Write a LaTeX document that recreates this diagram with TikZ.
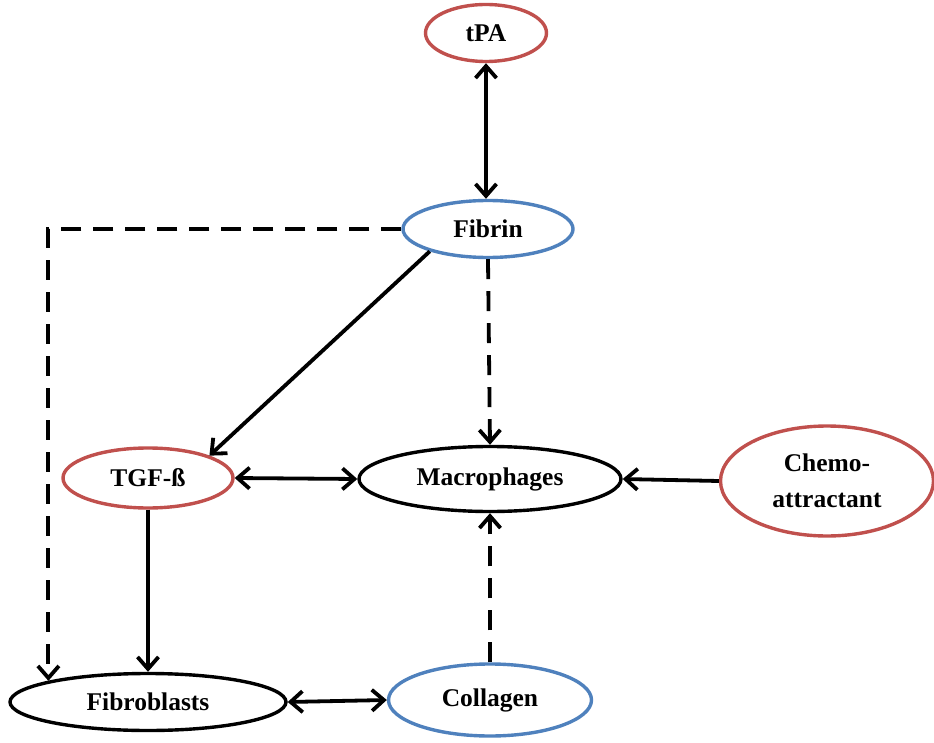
\documentclass[tikz,border=0pt]{standalone}
\usepackage{fontspec}
\setmainfont{Liberation Serif}
\usetikzlibrary{shapes.geometric,arrows.meta}
\definecolor{ovalred}{RGB}{192,80,77}
\definecolor{ovalblue}{RGB}{79,129,189}
\begin{document}
\begin{tikzpicture}[x=1pt,y=-1pt,line width=3.4pt,
  >={Straight Barb[length=12pt,width=21pt]},
  oval/.style={ellipse,draw,inner sep=0pt,align=center,font=\bfseries\fontsize{25.5}{36}\selectfont},
  link/.style={line width=3.8pt},
  dashlink/.style={link,dash pattern=on 20pt off 12pt}]
\useasboundingbox (0,0) rectangle (934,743);
\node[oval,draw=ovalred,minimum width=121pt,minimum height=57pt] (tpa) at (486,33) {tPA};
\node[oval,draw=ovalblue,minimum width=170pt,minimum height=57pt] (fib) at (488,229) {Fibrin};
\node[oval,draw=ovalred,minimum width=170pt,minimum height=60pt] (tgf) at (148,478) {TGF-ß};
\node[oval,minimum width=262pt,minimum height=65pt] (mac) at (490,479) {Macrophages};
\node[oval,draw=ovalred,minimum width=213pt,minimum height=110pt] (che) at (827,481) {Chemo-\\attractant};
\node[oval,minimum width=276pt,minimum height=57pt] (fbl) at (148,702) {Fibroblasts};
\node[oval,draw=ovalblue,minimum width=203pt,minimum height=72pt] (col) at (490,700) {Collagen};
% links
\draw[link,<->] (tpa.south) -- (tpa.south |- fib.north);
\draw[dashlink,->] (fib.west) -| (fbl.168);
\draw[link,->] (fib.201) -- (tgf.20);
\draw[dashlink,->] (fib.south) -- (mac.north);
\draw[link,<->] (tgf.east) -- (mac.west);
\draw[link,->] (che.west) -- (mac.east);
\draw[link,->] (tgf.south) -- (fbl.north);
\draw[dashlink,->] (col.north) -- (mac.south);
\draw[link,<->] (fbl.east) -- (col.west);
\end{tikzpicture}
\end{document}
